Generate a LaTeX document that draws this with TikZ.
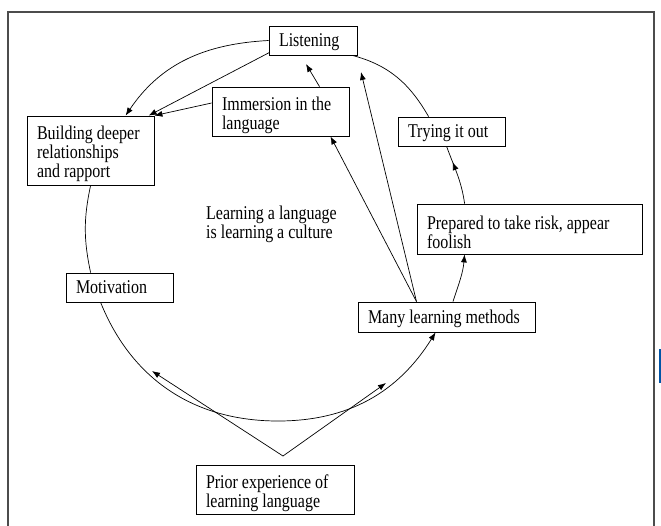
\documentclass[tikz,border=0pt]{standalone}
\usepackage{fontspec}
\setmainfont{Liberation Serif}[FakeStretch=0.82]
\usetikzlibrary{arrows.meta,calc,decorations.markings}
\newcommand\boxtextdown{\endgraf\vspace*{-7pt}}
\begin{document}
\begin{tikzpicture}[x=1pt,y=1pt,
  txt/.style={font=\fontsize{19.5}{18.7}\selectfont},
  box/.style={txt, draw, line width=0.8pt, inner xsep=10pt, inner ysep=0pt, align=flush left,
    execute at end node=\boxtextdown},
  conn/.style={line width=0.7pt},
  arr/.style={conn, -{Latex[length=8pt,width=6pt]}},
  midarr/.style={conn, postaction={decorate}, decoration={markings, mark=at position #1 with {\arrow{Latex[length=8pt,width=6pt]}}}}]
\useasboundingbox (0,0) rectangle (661,-525);
% frame
\draw[line width=1.3pt, black!70] (8,-527) -- (8,-12) -- (654,-12) -- (654,-527);
\draw[line width=1.5pt, color={rgb,255:red,0;green,84;blue,166}] (660,-349) -- (660,-383);

% nodes
\node[box, text width=68pt, minimum height=29pt] (listen) at (313,-40.5) {Listening};
\node[box, text width=117pt, minimum height=49pt] (immers) at (280.5,-111.5) {Immersion in the\\language};
\node[box, text width=107pt, minimum height=69pt] (build) at (90.5,-150.5) {Building deeper\\relationships\\and rapport};
\node[box, text width=87pt, minimum height=29pt] (trying) at (451.5,-131.5) {Trying it out};
\node[box, text width=205pt, minimum height=50pt] (prepared) at (529.5,-229) {Prepared to take risk, appear\\foolish};
\node[box, text width=87pt, minimum height=29pt] (motiv) at (119.5,-287.5) {Motivation};
\node[box, text width=157pt, minimum height=30pt] (many) at (446.5,-317) {Many learning methods};
\node[box, text width=138pt, minimum height=49pt] (prior) at (275,-489.5) {Prior experience of\\learning language};
\node[txt, align=left, inner sep=0pt, anchor=west] (culture) at (206,-224) {Learning a language\\is learning a culture};

% free ends
\coordinate (tipA) at (306,-64);
\coordinate (tipB) at (361,-72);
\coordinate (bot) at (278,-421);
\coordinate (apex) at (283,-456);
\coordinate (tipL) at (152,-371);
\coordinate (tipR) at (386,-383);

% connectors
\draw[arr] (listen.west) to[out=183,in=56] ($(build.north west)+(99,0)$);
\draw[arr] ($(listen.south west)+(1,3)$) -- ($(build.north west)+(122,0)$);
\draw[arr] ($(immers.west)+(0,8.5)$) -- (build.north east);
\draw[arr] ($(immers.north)+(39,0)$) -- (tipA);
\draw[arr] ($(many.north)+(-30,0)$) -- ($(immers.south)+(50,0)$);
\draw[arr] ($(many.north)+(-30,0)$) -- (tipB);
\draw[arr] ($(many.north)+(6.5,0)$) to[out=72,in=265] ($(prepared.south west)+(48,0)$);
\draw[midarr=0.72] ($(prepared.north west)+(48,0)$) to[out=98,in=290] ($(trying.south west)+(49,0)$);
\draw[conn] ($(listen.south east)+(-5,0)$) to[out=-15,in=120] ($(trying.north west)+(31,0)$);
\draw[conn] ($(build.south west)+(64,0)$) to[out=258,in=102] ($(motiv.north west)+(25,0)$);
\draw[arr] ($(motiv.south west)+(35,0)$) to[out=292,in=180] (bot) to[out=0,in=238] ($(many.south west)+(78,0)$);
\draw[arr] (apex) -- (tipL);
\draw[arr] (apex) -- (tipR);
\end{tikzpicture}
\end{document}
